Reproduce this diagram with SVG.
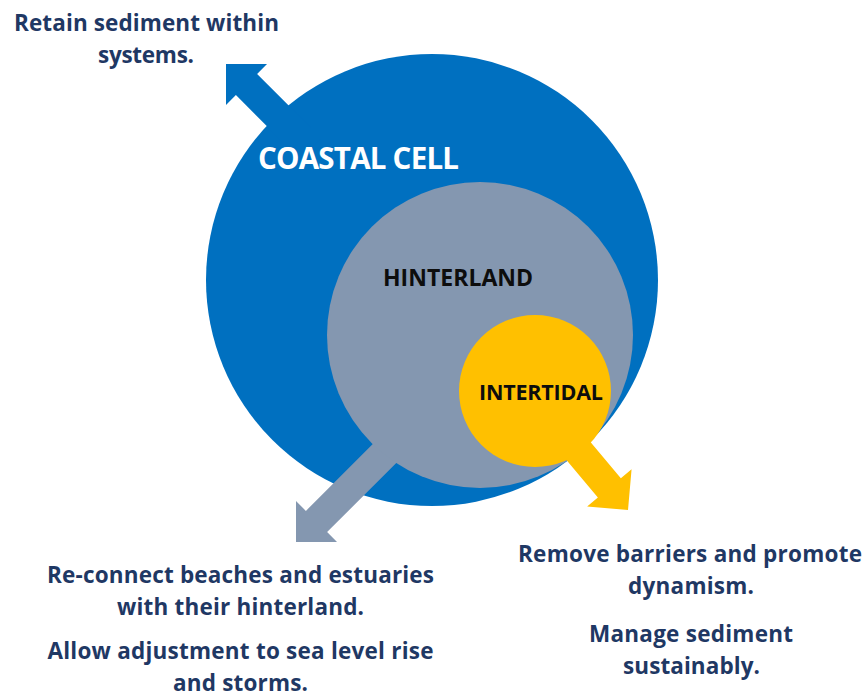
<svg xmlns="http://www.w3.org/2000/svg" width="868" height="697" viewBox="0 0 868 697">
  <style>
    .zone-blue { fill: #0070C0; }
    .zone-grey { fill: #8497B0; }
    .zone-gold { fill: #FFC000; }
    .label { font-family: "Open Sans", "Noto Sans", "Liberation Sans", sans-serif; font-weight: 700; text-anchor: middle; }
    .caption { font-family: "Open Sans", "Noto Sans", "Liberation Sans", sans-serif; font-weight: 700; font-size: 22.5px; fill: #1F3864; text-anchor: middle; }
  </style>
  <defs>
    <!-- block arrow, tip at the origin, pointing along +x -->
    <path id="arrow" d="M0,0 L-29,-29 L-29,-15 L-120,-15 L-120,15 L-29,15 L-29,29 Z"/>
    <path id="arrow-long" d="M0,0 L-29,-29 L-29,-15 L-200,-15 L-200,15 L-29,15 L-29,29 Z"/>
  </defs>

  <rect width="868" height="697" fill="#FFFFFF"/>

  <!-- outer zone -->
  <g id="coastal-cell">
    <circle class="zone-blue" cx="432" cy="280" r="226"/>
  </g>

  <g id="connectors">
    <use href="#arrow" class="zone-blue" transform="translate(226,64) rotate(225)"/>
    <use href="#arrow-long" class="zone-grey" transform="translate(296,542) rotate(135)"/>
  </g>

  <!-- middle zone -->
  <g id="hinterland">
    <circle class="zone-grey" cx="480" cy="335" r="153"/>
  </g>

  <g id="connectors-inner">
    <use href="#arrow" class="zone-gold" transform="translate(628,510) rotate(50)"/>
  </g>

  <!-- inner zone -->
  <g id="intertidal">
    <circle class="zone-gold" cx="535" cy="391" r="76"/>
  </g>

  <!-- zone names -->
  <g id="zone-labels">
    <text class="label" x="358.5" y="169" font-size="29.5" fill="#FFFFFF" textLength="201">COASTAL CELL</text>
    <text class="label" x="458" y="286" font-size="23" fill="#0D0D0D" textLength="150">HINTERLAND</text>
    <text class="label" x="541" y="400" font-size="21.5" fill="#0D0D0D" textLength="124">INTERTIDAL</text>
  </g>

  <!-- actions attached to each arrow -->
  <g id="caption-coastal-cell">
    <text class="caption" x="146.5" y="31" textLength="265">Retain sediment within</text>
    <text class="caption" x="146" y="63" textLength="96">systems.</text>
  </g>
  <g id="caption-hinterland">
    <text class="caption" x="240.5" y="583" textLength="387">Re-connect beaches and estuaries</text>
    <text class="caption" x="240.5" y="615" textLength="247">with their hinterland.</text>
    <text class="caption" x="240.5" y="659" textLength="386">Allow adjustment to sea level rise</text>
    <text class="caption" x="240.5" y="691" textLength="135">and storms.</text>
  </g>
  <g id="caption-intertidal">
    <text class="caption" x="690" y="562" textLength="344">Remove barriers and promote</text>
    <text class="caption" x="691" y="594" textLength="126">dynamism.</text>
    <text class="caption" x="691" y="642" textLength="204">Manage sediment</text>
    <text class="caption" x="691.5" y="674" textLength="137">sustainably.</text>
  </g>
</svg>
